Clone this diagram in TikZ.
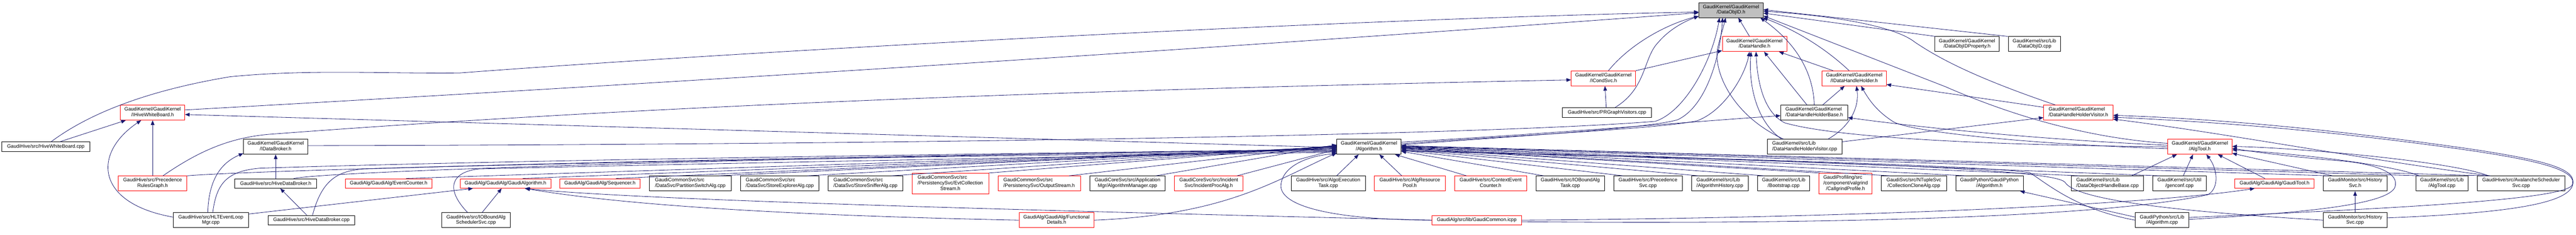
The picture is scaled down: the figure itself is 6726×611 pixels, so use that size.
\documentclass[tikz,border=0pt]{standalone}
\usepackage{fontspec}
\setmainfont{Liberation Sans}
\usetikzlibrary{arrows.meta}
\definecolor{edgec}{HTML}{191970}
\newcommand\dfont{\fontsize{12.9}{14.4}\selectfont}
\newcommand\twoL[2]{\begin{tabular}{@{}l@{}}#1\\\multicolumn{1}{@{}c@{}}{#2}\end{tabular}}
\newcommand\threeL[3]{\begin{tabular}{@{}l@{}}#1\\#2\\\multicolumn{1}{@{}c@{}}{#3}\end{tabular}}
\tikzset{
  box/.style={draw=black, fill=white, line width=1pt, inner sep=0pt, font=\dfont, anchor=center},
  rbox/.style={box, draw=red},
  gbox/.style={box, fill=gray!50},
  edge/.style={draw=edgec, line width=1.1pt, -{Triangle[length=12pt,width=9.5pt]}},
  w/.style={minimum width=#1pt},
  h2/.style={minimum height=39pt},
  h1/.style={minimum height=25pt},
  h3/.style={minimum height=54pt}
}
\begin{document}
\begin{tikzpicture}[x=1pt,y=-1pt]
\fill[white] (0,0) rectangle (6726,611);
\useasboundingbox (0,0) rectangle (6726,611);
% ---------- nodes ----------
\node[gbox,w=168,h2] (root) at (4519.7,26.2) {\twoL{GaudiKernel/GaudiKernel}{/DataObjID.h}};
\node[rbox,w=168,h2] (dh) at (4581,114.8) {\twoL{GaudiKernel/GaudiKernel}{/DataHandle.h}};
\node[box,w=168,h2] (dprop) at (5135.9,114.8) {\twoL{GaudiKernel/GaudiKernel}{/DataObjIDProperty.h}};
\node[box,w=136,h2] (dcpp) at (5311.9,114.8) {\twoL{GaudiKernel/src/Lib}{/DataObjID.cpp}};
\node[rbox,w=168,h2] (icond) at (4186.5,204.1) {\twoL{GaudiKernel/GaudiKernel}{/ICondSvc.h}};
\node[rbox,w=168,h2] (idhh) at (4841.2,204.1) {\twoL{GaudiKernel/GaudiKernel}{/IDataHandleHolder.h}};
\node[rbox,w=168,h2] (ihwb) at (398.5,293.3) {\twoL{GaudiKernel/GaudiKernel}{/IHiveWhiteBoard.h}};
\node[box,w=233,h1] (prgv) at (4195.9,292.9) {GaudiHive/src/PRGraphVisitors.cpp};
\node[box,w=175,h2] (dhhb) at (4737,293.3) {\twoL{GaudiKernel/GaudiKernel}{/DataHandleHolderBase.h}};
\node[rbox,w=181,h2] (dhhvh) at (5426.5,293.3) {\twoL{GaudiKernel/GaudiKernel}{/DataHandleHolderVisitor.h}};
\node[box,w=230,h1] (hwbcpp) at (119.6,382) {GaudiHive/src/HiveWhiteBoard.cpp};
\node[box,w=168,h2] (idb) at (719.8,382.3) {\twoL{GaudiKernel/GaudiKernel}{/IDataBroker.h}};
\node[box,w=168,h2] (alg) at (3574.5,382.3) {\twoL{GaudiKernel/GaudiKernel}{/Algorithm.h}};
\node[box,w=194,h2] (dhhvcpp) at (4711.9,382.3) {\twoL{GaudiKernel/src/Lib}{/DataHandleHolderVisitor.cpp}};
\node[rbox,w=168,h2] (algtool) at (5743.9,382.3) {\twoL{GaudiKernel/GaudiKernel}{/AlgTool.h}};
% row 5
\node[rbox,w=179,h2] (prg) at (398.5,477.8) {\twoL{GaudiHive/src/Precedence}{RulesGraph.h}};
\node[box,w=214,h1] (hdbh) at (719.8,477.8) {GaudiHive/src/HiveDataBroker.h};
\node[rbox,w=227,h1] (evc) at (1014.6,477.8) {GaudiAlg/GaudiAlg/EventCounter.h};
\node[rbox,w=236.5,h1] (galg) at (1319.8,477.8) {GaudiAlg/GaudiAlg/GaudiAlgorithm.h};
\node[rbox,w=210,h1] (seq) at (1566.4,477.8) {GaudiAlg/GaudiAlg/Sequencer.h};
\node[box,w=214,h2] (psa) at (1802.3,477.8) {\twoL{GaudiCommonSvc/src}{/DataSvc/PartitionSwitchAlg.cpp}};
\node[box,w=204,h2] (sea) at (2035.9,477.8) {\twoL{GaudiCommonSvc/src}{/DataSvc/StoreExplorerAlg.cpp}};
\node[box,w=195,h2] (ssa) at (2259.8,477.8) {\twoL{GaudiCommonSvc/src}{/DataSvc/StoreSnifferAlg.cpp}};
\node[rbox,w=200,h3] (ecs) at (2481.3,478) {\threeL{GaudiCommonSvc/src}{/PersistencySvc/EvtCollection}{Stream.h}};
\node[rbox,w=215,h2] (os) at (2713.2,477.8) {\twoL{GaudiCommonSvc/src}{/PersistencySvc/OutputStream.h}};
\node[box,w=197,h2] (am) at (2943.9,477.8) {\twoL{GaudiCoreSvc/src/Application}{Mgr/AlgorithmManager.cpp}};
\node[rbox,w=179,h2] (ipa) at (3155.9,477.8) {\twoL{GaudiCoreSvc/src/Incident}{Svc/IncidentProcAlg.h}};
\node[box,w=194,h2] (aet) at (3467.9,477.8) {\twoL{GaudiHive/src/AlgoExecution}{Task.cpp}};
\node[rbox,w=184.5,h2] (arp) at (3681,477.8) {\twoL{GaudiHive/src/AlgResource}{Pool.h}};
\node[rbox,w=189,h2] (cec) at (3892,477.8) {\twoL{GaudiHive/src/ContextEvent}{Counter.h}};
\node[box,w=179,h2] (iobt) at (4099.9,477.8) {\twoL{GaudiHive/src/IOBoundAlg}{Task.cpp}};
\node[box,w=179,h2] (psvc) at (4302.7,477.8) {\twoL{GaudiHive/src/Precedence}{Svc.cpp}};
\node[box,w=148,h2] (ahist) at (4490.5,477.8) {\twoL{GaudiKernel/src/Lib}{/AlgorithmHistory.cpp}};
\node[box,w=136,h2] (boot) at (4657.2,477.8) {\twoL{GaudiKernel/src/Lib}{/Bootstrap.cpp}};
\node[rbox,w=139,h3] (cgp) at (4818.7,478) {\threeL{GaudiProfiling/src}{/component/valgrind}{/CallgrindProfile.h}};
\node[box,w=171,h2] (cca) at (4997,477.8) {\twoL{GaudiSvc/src/NTupleSvc}{/CollectionCloneAlg.cpp}};
\node[box,w=176,h2] (gpalgh) at (5194.4,477.8) {\twoL{GaudiPython/GaudiPython}{/Algorithm.h}};
\node[box,w=188,h2] (dohb) at (5502.6,477.8) {\twoL{GaudiKernel/src/Lib}{/DataObjectHandleBase.cpp}};
\node[box,w=139,h2] (genconf) at (5690.5,477.8) {\twoL{GaudiKernel/src/Util}{/genconf.cpp}};
\node[rbox,w=207,h1] (gtool) at (5938.7,477.8) {GaudiAlg/GaudiAlg/GaudiTool.h};
\node[box,w=167,h2] (hsvch) at (6149.2,477.8) {\twoL{GaudiMonitor/src/History}{Svc.h}};
\node[box,w=136,h2] (atcpp) at (6375.9,477.8) {\twoL{GaudiKernel/src/Lib}{/AlgTool.cpp}};
\node[box,w=228,h2] (ava) at (6582.5,477.8) {\twoL{GaudiHive/src/AvalancheScheduler}{Svc.cpp}};
% row 6
\node[box,w=196.5,h2] (hlt) at (550.5,573.4) {\twoL{GaudiHive/src/HLTEventLoop}{Mgr.cpp}};
\node[box,w=227,h1] (hdbcpp) at (813,573.4) {GaudiHive/src/HiveDataBroker.cpp};
\node[box,w=179,h2] (iobs) at (1242.8,573.4) {\twoL{GaudiHive/src/IOBoundAlg}{SchedulerSvc.cpp}};
\node[rbox,w=196,h2] (fd) at (2758.6,573.4) {\twoL{GaudiAlg/GaudiAlg/Functional}{Details.h}};
\node[rbox,w=234,h1] (gcom) at (3855.8,573.4) {GaudiAlg/src/lib/GaudiCommon.icpp};
\node[box,w=140,h2] (gpalgcpp) at (5645.1,573.4) {\twoL{GaudiPython/src/Lib}{/Algorithm.cpp}};
\node[box,w=167,h2] (hsvccpp) at (6149.2,573.4) {\twoL{GaudiMonitor/src/History}{Svc.cpp}};
% ---------- edges: root ----------
\draw[edge] ([xshift=14pt]hwbcpp.north) .. controls (200,320) and (330,245) .. (600,200) .. controls (800,180) and (1000,192) .. (1200,190) .. controls (2000,130) and (3500,50) .. ([yshift=-5pt]root.west);
\draw[edge] ([yshift=7pt]ihwb.east) .. controls (1500,230) and (3000,140) .. ([yshift=-7pt]root.west);
\draw[edge] ([xshift=13pt]icond.north) .. controls (4260,110) and (4360,60) .. ([yshift=-16pt]root.west);
\draw[edge] ([xshift=21pt]prgv.north) .. controls (4300,230) and (4290,150) .. (4330,110) .. controls (4360,75) and (4400,55) .. ([yshift=4pt]root.south west);
\draw[edge] ([yshift=3pt]idb.east) .. controls (2500,376) and (3900,350) .. (4322,316) .. controls (4400,290) and (4470,160) .. ([xshift=-30pt]root.south);
\draw[edge] ([yshift=5pt]alg.east) .. controls (3950,355) and (4300,335) .. (4380,312) .. controls (4450,280) and (4490,160) .. ([xshift=-22pt]root.south);
\draw[edge] ([xshift=-13pt]dh.north) -- ([xshift=19pt]root.south);
\draw[edge] ([xshift=-55pt]dhhvcpp.north) .. controls (4520,300) and (4470,180) .. (4486,120) .. controls (4492,95) and (4500,70) .. ([xshift=-14pt]root.south);
\draw[edge] ([xshift=-13pt]idhh.north) .. controls (4760,120) and (4680,75) .. ([xshift=-1pt]root.south east);
\draw[edge] (dhhb.north) .. controls (4735,200) and (4700,120) .. ([xshift=-8pt]root.south east);
\draw[edge] ([xshift=-60pt]dhhvh.north) .. controls (5150,200) and (5060,150) .. (5000,110) .. controls (4950,70) and (4800,42) .. ([yshift=-3pt]root.east);
\draw[edge] ([xshift=2pt]dprop.north west) -- ([yshift=-8pt]root.east);
\draw[edge] ([xshift=-1pt]dcpp.north west) -- ([yshift=1pt]root.east);
\draw[edge] ([yshift=9pt]algtool.west) .. controls (5450,360) and (5250,300) .. (5080,226) -- ([yshift=-15pt]root.east);
% ---------- DataHandle.h ----------
\draw[edge] ([xshift=-55pt]idhh.north) -- ([xshift=64pt]dh.south);
\draw[edge] ([xshift=-19pt]dhhb.north) -- ([xshift=25pt]dh.south);
\draw[edge] ([xshift=-60pt]dhhvcpp.north) .. controls (4590,320) and (4565,230) .. ([xshift=-9pt]dh.south);
\draw[edge] (algtool.west) .. controls (5200,378) and (4800,360) .. (4660,320) .. controls (4600,290) and (4588,200) .. ([xshift=4pt]dh.south);
\draw[edge] ([yshift=8pt]alg.east) .. controls (4000,350) and (4330,335) .. (4430,315) .. controls (4500,290) and (4555,200) .. ([xshift=-13pt]dh.south);
\draw[edge] (icond.north east) -- ([yshift=-17pt]dh.west);
% ---------- IDataHandleHolder.h ----------
\draw[edge] ([xshift=22pt]dhhb.north) -- ([xshift=-25pt]idhh.south);
\draw[edge] ([xshift=61pt]dhhvcpp.north) .. controls (4830,330) and (4855,280) .. ([xshift=6pt]idhh.south);
\draw[edge] ([yshift=-5pt]algtool.west) .. controls (5300,375) and (5000,345) .. (4945,318) .. controls (4900,290) and (4880,260) .. ([xshift=18pt]idhh.south);
\draw[edge] ([yshift=14pt]dhhvh.west) -- ([yshift=-16pt]idhh.east);
% ---------- DataHandleHolderBase.h ----------
\draw[edge] ([yshift=12pt]alg.east) .. controls (4100,345) and (4400,318) .. ([yshift=-8pt]dhhb.west);
\draw[edge] ([yshift=4pt]algtool.west) .. controls (5300,362) and (5000,330) .. ([yshift=-13pt]dhhb.east);
% ---------- DataHandleHolderVisitor.h ----------
\draw[edge] ([yshift=13pt]dhhvcpp.east) -- ([yshift=-13pt]dhhvh.west);
\draw[edge] ([xshift=-80pt]ava.north) .. controls (6200,420) and (5800,345) .. ([yshift=-17pt]dhhvh.east);
\draw[edge] ([yshift=6pt]hsvccpp.east) .. controls (6550,555) and (6712,530) .. (6718,478) .. controls (6724,440) and (6650,418) .. (6450,388) .. controls (6100,338) and (5800,310) .. ([yshift=-7pt]dhhvh.east);
\draw[edge] ([yshift=7pt]gpalgcpp.east) .. controls (6200,545) and (6695,522) .. (6716,482) .. controls (6730,445) and (6640,420) .. (6450,392) .. controls (6100,342) and (5800,318) .. ([yshift=-12pt]dhhvh.east);
% ---------- ICondSvc.h ----------
\draw[edge] ([xshift=27pt]prg.north) .. controls (510,400) and (590,360) .. (700,350) .. controls (1500,290) and (2500,240) .. ([yshift=-4pt]icond.west);
\draw[edge] ([xshift=-2pt]prgv.north) -- ([xshift=4pt]icond.south);
% ---------- IHiveWhiteBoard.h ----------
\draw[edge] ([xshift=37pt]hwbcpp.north) -- ([xshift=-70pt]ihwb.south);
\draw[edge] (prg.north) -- (ihwb.south);
\draw[edge] ([yshift=8pt]hlt.west) .. controls (250,530) and (240,400) .. ([xshift=-30pt]ihwb.south);
\draw[edge] ([yshift=-2pt]alg.west) -- ([yshift=-5pt]ihwb.east);
% ---------- IDataBroker.h, HiveDataBroker.h ----------
\draw[edge] ([xshift=-8pt]hlt.north) .. controls (545,470) and (575,425) .. ([yshift=3pt]idb.south west);
\draw[edge] (hdbh.north) -- (idb.south);
\draw[edge] ([xshift=-12pt]hdbcpp.north) -- ([xshift=12pt]hdbh.south);
% ---------- GaudiAlgorithm.h ----------
\draw[edge] ([yshift=-4pt]hlt.north east) -- ([xshift=-85pt]galg.south);
\draw[edge] ([xshift=16pt]iobs.north) -- ([xshift=-10pt]galg.south);
\draw[edge] (fd.west) .. controls (2000,560) and (1600,530) .. ([xshift=52pt]galg.south);
\draw[edge] (gcom.west) .. controls (3000,555) and (1700,525) .. ([xshift=50pt]galg.south);
% ---------- misc ----------
\draw[edge] ([yshift=8pt]gpalgcpp.west) -- ([xshift=80pt]gpalgh.south);
\draw[edge] (hsvccpp.north) -- (hsvch.south);
\draw[edge] (gcom.east) .. controls (4800,568) and (5600,535) .. ([xshift=-52pt]gtool.south);
% ---------- AlgTool.h ----------
\draw[edge] ([yshift=-4pt]gcom.east) .. controls (4800,585) and (5500,565) .. (5765,507) .. controls (5795,490) and (5790,440) .. ([xshift=17pt]algtool.south);
\draw[edge] ([xshift=10pt]genconf.north) -- ([xshift=-18pt]algtool.south);
\draw[edge] ([xshift=63pt]dohb.north) -- ([xshift=-60pt]algtool.south);
\draw[edge] ([xshift=-25pt]gtool.north) -- ([xshift=47pt]algtool.south);
\draw[edge] ([xshift=-59pt]hsvch.north) -- ([yshift=-17pt]algtool.east);
\draw[edge] ([xshift=-60pt]atcpp.north) .. controls (6250,430) and (6000,400) .. ([yshift=-8pt]algtool.east);
\draw[edge] ([xshift=-85pt]ava.north) .. controls (6400,420) and (6000,385) .. ([yshift=1pt]algtool.east);
\draw[edge] ([yshift=2pt]gpalgcpp.east) .. controls (6000,555) and (6225,535) .. (6252,490) .. controls (6270,450) and (6200,425) .. (6100,418) .. controls (6000,410) and (5900,398) .. ([yshift=-4pt]algtool.east);
% ---------- Algorithm.h from the left ----------
\draw[edge] (prg.north east) .. controls (700,440) and (2500,398) .. ([yshift=-10pt]alg.west);
\draw[edge] ([xshift=5pt]hlt.north) .. controls (565,480) and (590,445) .. (680,438) .. controls (1500,412) and (3000,396) .. ([yshift=-6pt]alg.west);
\draw[edge] ([xshift=47pt]hdbh.north) .. controls (900,440) and (2500,400) .. ([yshift=-8pt]alg.west);
\draw[edge] ([xshift=3pt]hdbcpp.north) .. controls (840,470) and (880,445) .. (950,440) .. controls (1800,415) and (3000,400) .. ([yshift=-12pt]alg.west);
\draw[edge] ([xshift=46pt]evc.north) -- ([yshift=-4pt]alg.west);
\draw[edge] ([xshift=-22pt]iobs.north) .. controls (1160,490) and (1180,448) .. (1250,440) .. controls (2000,422) and (3000,405) .. ([yshift=-14pt]alg.west);
\draw[edge] ([xshift=45pt]galg.north) -- ([yshift=-3pt]alg.west);
\draw[edge] ([xshift=42pt]seq.north) -- ([yshift=-1pt]alg.west);
\draw[edge] ([xshift=75pt]psa.north) -- (alg.west);
\draw[edge] ([xshift=72pt]sea.north) -- ([yshift=1pt]alg.west);
\draw[edge] ([xshift=68pt]ssa.north) -- ([yshift=2pt]alg.west);
\draw[edge] (ecs.north east) -- ([yshift=3pt]alg.west);
\draw[edge] ([xshift=78pt]os.north) -- ([yshift=4pt]alg.west);
\draw[edge] (fd.east) .. controls (3200,560) and (3330,470) .. ([yshift=-16pt]alg.west);
\draw[edge] ([xshift=74pt]am.north) -- ([yshift=5pt]alg.west);
\draw[edge] ([xshift=74pt]ipa.north) -- ([yshift=-7pt]alg.west);
\draw[edge] (gcom.west) .. controls (3450,572) and (3335,530) .. (3345,478) .. controls (3352,430) and (3420,405) .. ([yshift=-18pt]alg.west);
\draw[edge] ([xshift=22pt]aet.north) -- ([xshift=-27pt]alg.south);
% ---------- Algorithm.h from the right ----------
\draw[edge] ([xshift=-21pt]arp.north) -- ([xshift=27pt]alg.south);
\draw[edge] ([xshift=-63pt]cec.north) -- ([xshift=68pt]alg.south);
\draw[edge] ([xshift=-69pt]iobt.north) -- ([yshift=-12pt]alg.east);
\draw[edge] ([xshift=-65pt]psvc.north) -- ([yshift=-9pt]alg.east);
\draw[edge] ([xshift=-56pt]ahist.north) -- ([yshift=-7pt]alg.east);
\draw[edge] ([xshift=-51pt]boot.north) -- ([yshift=-5pt]alg.east);
\draw[edge] ([xshift=2pt]cgp.north west) -- ([yshift=-4pt]alg.east);
\draw[edge] ([xshift=-62pt]cca.north) -- ([yshift=-3pt]alg.east);
\draw[edge] ([xshift=-62pt]gpalgh.north) -- ([yshift=-2pt]alg.east);
\draw[edge] ([xshift=-73pt]dohb.north) -- ([yshift=-1pt]alg.east);
\draw[edge] ([xshift=-52pt]genconf.north) -- (alg.east);
\draw[edge] ([xshift=-70pt]hsvch.north) -- ([yshift=1pt]alg.east);
\draw[edge] ([xshift=-55pt]atcpp.north) -- ([yshift=2pt]alg.east);
\draw[edge] ([xshift=-90pt]ava.north) -- ([yshift=3pt]alg.east);
\draw[edge] (gpalgcpp.west) .. controls (5420,545) and (5345,478) .. (5300,450) .. controls (5200,432) and (4500,412) .. ([yshift=-10pt]alg.east);
\draw[edge] (hsvccpp.west) .. controls (5700,552) and (5420,522) .. (5392,475) .. controls (5365,440) and (4800,420) .. ([yshift=-11pt]alg.east);
\end{tikzpicture}
\end{document}
